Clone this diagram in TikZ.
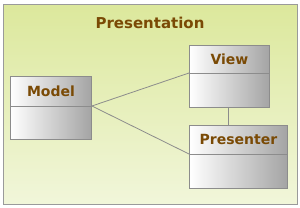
\documentclass[tikz,border=0pt]{standalone}
\usepackage{fontspec}
\setmainfont{DejaVu Sans}
\definecolor{txtbrown}{HTML}{7A4A05}
\definecolor{bgtop}{HTML}{DCE89C}
\definecolor{bgbot}{HTML}{F1F6DA}
\definecolor{framegray}{HTML}{9A9A9A}
\definecolor{boxgray}{HTML}{8C8C8C}
\definecolor{boxright}{HTML}{A4A4A4}
\begin{document}
\begin{tikzpicture}[x=1pt,y=1pt,
  umlbox/.style={draw=boxgray, line width=0.9pt, left color=white, right color=boxright, anchor=north west, inner sep=0pt},
  umltitle/.style={text=txtbrown, font=\bfseries\fontsize{14}{16}\selectfont, inner sep=0pt},
  divider/.style={draw=boxgray, line width=0.9pt},
  conn/.style={draw=gray!90, line width=0.8pt}]
\useasboundingbox (0,0) rectangle (300,208);
\node[draw=framegray, line width=1pt, top color=bgtop, bottom color=bgbot, minimum width=294pt, minimum height=200pt, inner sep=0pt, anchor=south west] (frame) at (3,3) {};
\node[umltitle, font=\bfseries\fontsize{15}{17}\selectfont] (ptitle) at (150,185) {Presentation};
% Model
\node[umlbox, minimum width=81pt, minimum height=63pt] (model) at (10,132) {};
\draw[divider] (model.west |- 0,102) coordinate (mdl) -- (model.east |- 0,102) coordinate (mdr);
\node[umltitle] (modelt) at (model.north |- 0,117) {Model};
% View
\node[umlbox, minimum width=80pt, minimum height=62pt] (view) at (189,163) {};
\draw[divider] (view.west |- 0,135) coordinate (vdl) -- (view.east |- 0,135) coordinate (vdr);
\node[umltitle] (viewt) at (view.north |- 0,149) {View};
% Presenter
\node[umlbox, minimum width=98pt, minimum height=63pt] (pres) at (189,83) {};
\draw[divider] (pres.west |- 0,54) coordinate (pdl) -- (pres.east |- 0,54) coordinate (pdr);
\node[umltitle] (prest) at (pres.north |- 0,68.5) {Presenter};
% connectors
\draw[conn] (mdr) -- (vdl);
\draw[conn] (mdr) -- (pdl);
\draw[conn] (view.south -| 228,0) -- (pres.north -| 228,0);
\end{tikzpicture}
\end{document}
